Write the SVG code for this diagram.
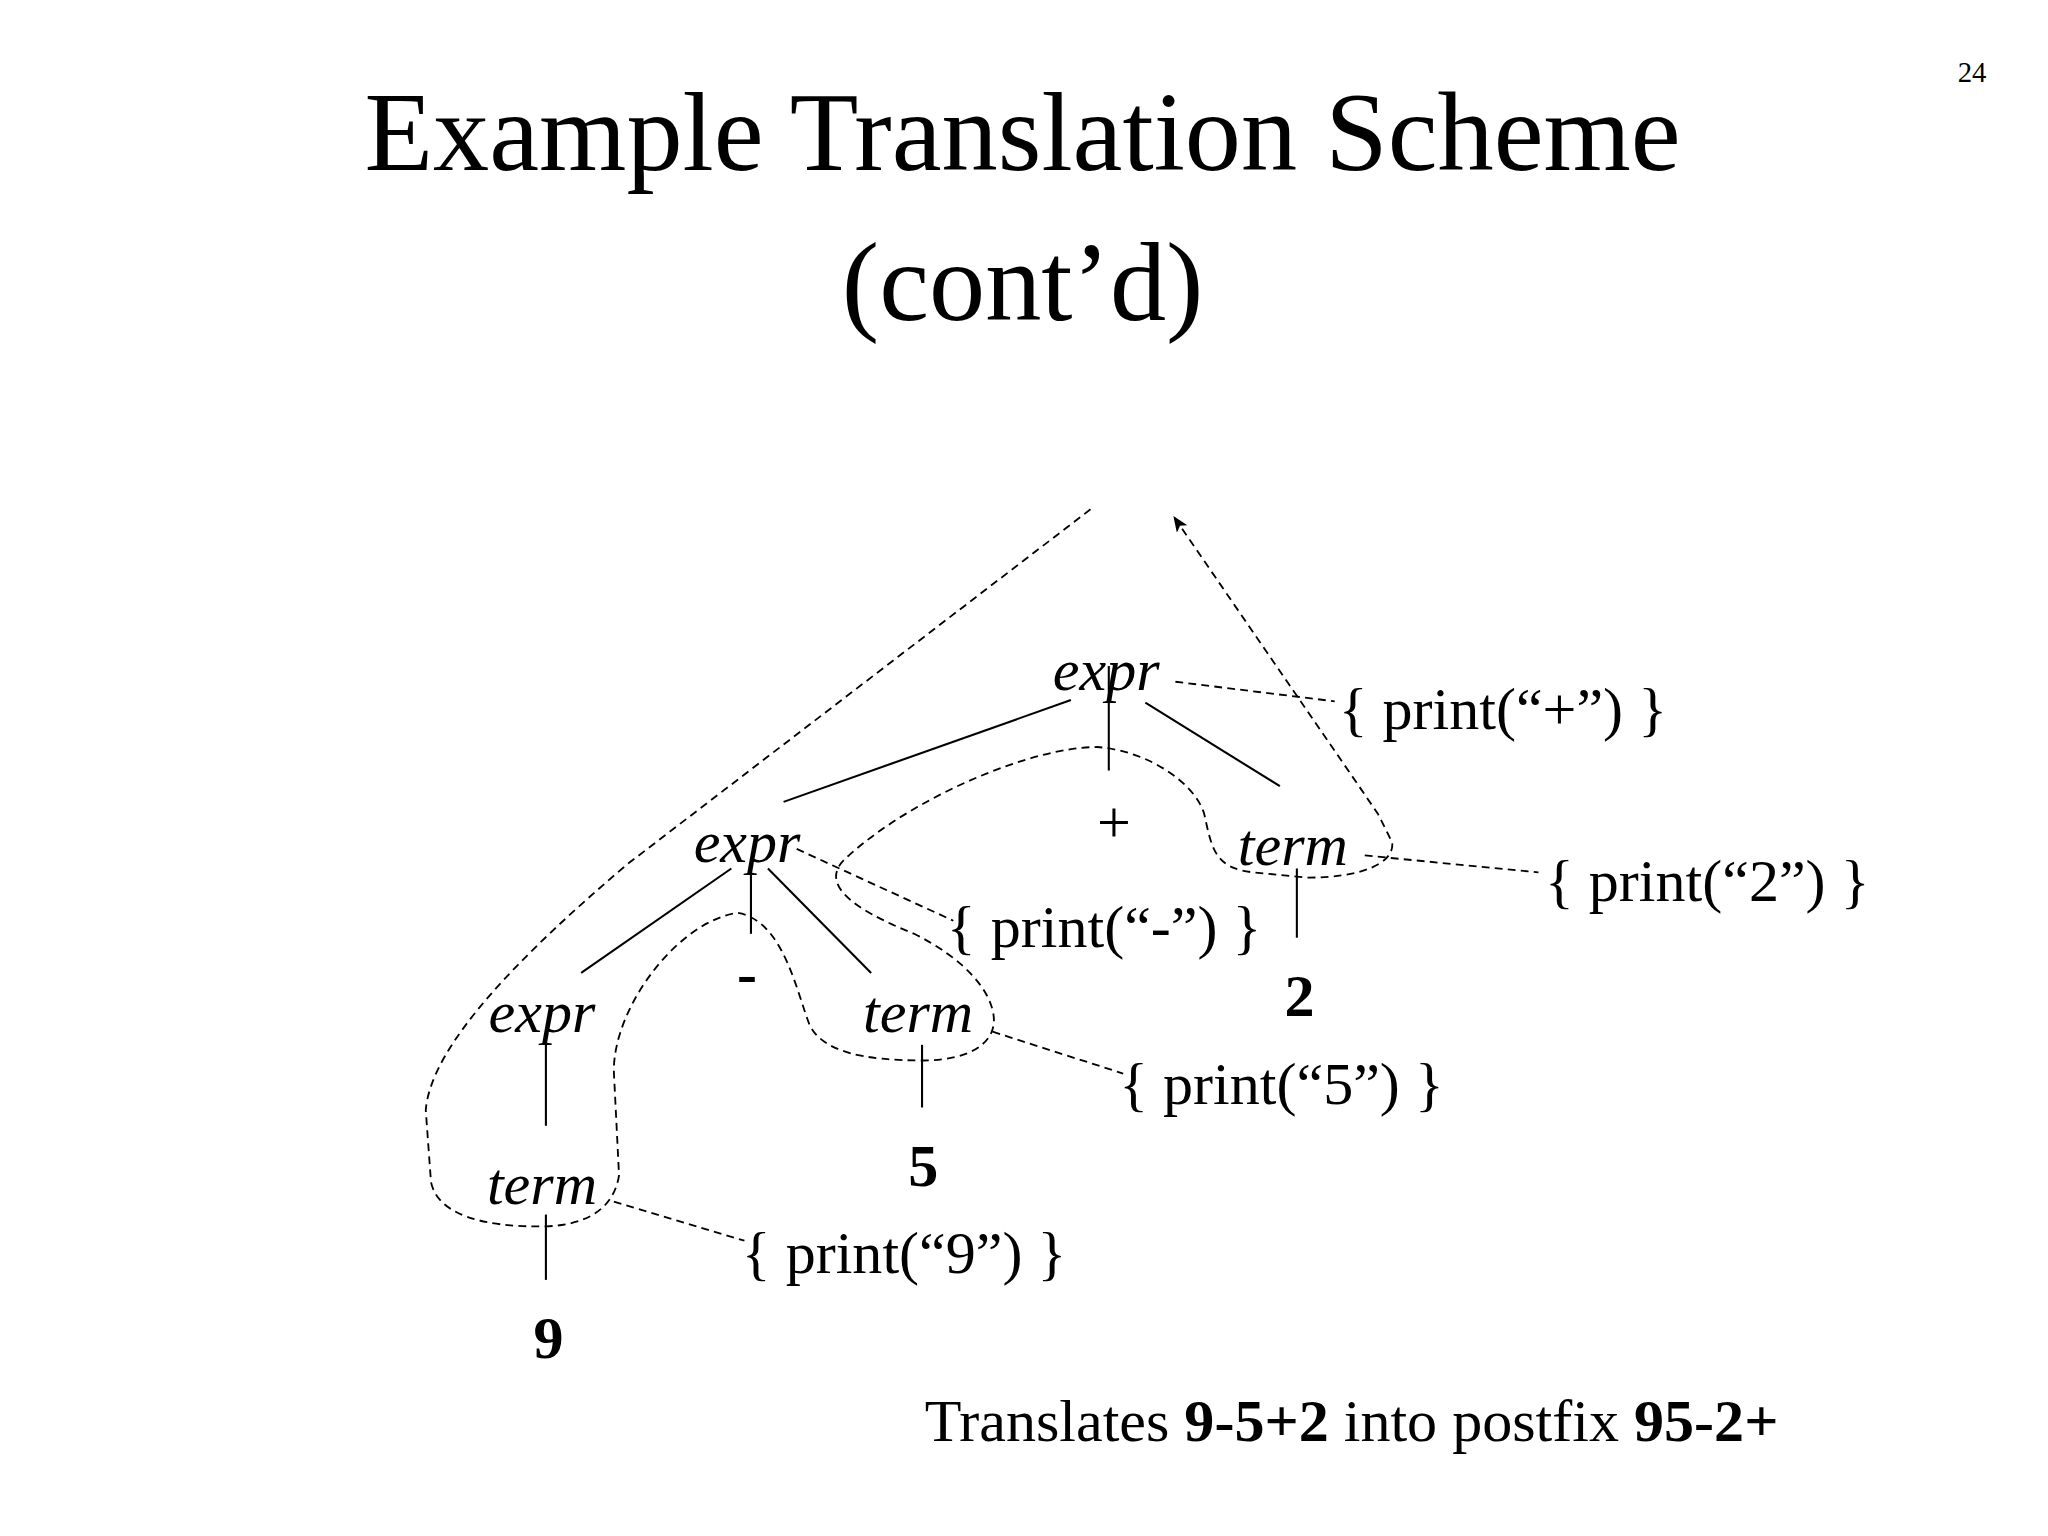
<svg xmlns="http://www.w3.org/2000/svg" width="2048" height="1536" viewBox="0 0 2048 1536">
<style>
text{font-family:"Liberation Serif","Times New Roman",serif;fill:#000}
.t{font-size:86px;text-anchor:middle}
.n{font-size:46px;font-style:italic;text-anchor:middle}
.b{font-size:46px;font-weight:bold;text-anchor:middle}
.p{font-size:46px}
.s{stroke:#000;stroke-width:1.6;fill:none}
.d{stroke:#000;stroke-width:1.4;fill:none;stroke-dasharray:6 4}
</style>
<defs><marker id="ah" markerWidth="12" markerHeight="10" refX="11" refY="5" orient="auto" markerUnits="userSpaceOnUse"><path d="M0,0 L12,5 L0,10 L3,5 Z" fill="#000"/></marker></defs>
<rect width="2048" height="1536" fill="#fff"/>
<g transform="scale(1.306)">
<text class="t" x="783" y="130">Example Translation Scheme</text>
<text class="t" x="783" y="245">(cont’d)</text>
<text x="1510" y="63" style="font-size:22px;text-anchor:middle">24</text>
<g id="n_expr_top"><text class="n" x="847" y="528">expr</text></g>
<g id="n_plus"><text class="p" x="853" y="645" style="text-anchor:middle">+</text></g>
<g id="n_term_r"><text class="n" x="990" y="662">term</text></g>
<g id="n_2"><text class="b" x="995" y="778">2</text></g>
<g id="n_expr_mid"><text class="n" x="572" y="660">expr</text></g>
<g id="n_minus"><text class="b" x="572" y="760">-</text></g>
<g id="n_term_mid"><text class="n" x="703" y="790">term</text></g>
<g id="n_5"><text class="b" x="707" y="908">5</text></g>
<g id="n_expr_l"><text class="n" x="415" y="790">expr</text></g>
<g id="n_term_l"><text class="n" x="415" y="922">term</text></g>
<g id="n_9"><text class="b" x="420" y="1040">9</text></g>
<g id="a_plus"><text class="p" x="1025" y="558">{ print(“+”) }</text></g>
<g id="a_2"><text class="p" x="1183" y="690">{ print(“2”) }</text></g>
<g id="a_minus"><text class="p" x="725" y="725">{ print(“-”) }</text></g>
<g id="a_5"><text class="p" x="857" y="845">{ print(“5”) }</text></g>
<g id="a_9"><text class="p" x="568" y="975">{ print(“9”) }</text></g>
<text class="p" x="708" y="1103">Translates <tspan font-weight="bold">9-5+2</tspan> into postfix <tspan font-weight="bold">95-2+</tspan></text>
<g id="connectors">
<line class="s" x1="820" y1="536" x2="600" y2="614"/>
<line class="s" x1="849" y1="510" x2="849" y2="590"/>
<line class="s" x1="877" y1="538" x2="980" y2="602"/>
<line class="s" x1="993" y1="665" x2="993" y2="718"/>
<line class="s" x1="560" y1="665" x2="445" y2="745"/>
<line class="s" x1="575" y1="665" x2="575" y2="715"/>
<line class="s" x1="588" y1="665" x2="667" y2="745"/>
<line class="s" x1="706" y1="800" x2="706" y2="848"/>
<line class="s" x1="418" y1="800" x2="418" y2="862"/>
<line class="s" x1="418" y1="930" x2="418" y2="980"/>
<line class="d" x1="900" y1="522" x2="1022" y2="537"/>
<line class="d" x1="1045" y1="655" x2="1178" y2="668"/>
<line class="d" x1="610" y1="650" x2="730" y2="705"/>
<line class="d" x1="760" y1="790" x2="860" y2="822"/>
<line class="d" x1="470" y1="920" x2="570" y2="950"/>
<path class="d" marker-end="url(#ah)" d="M835,390 L480,662 C400,730 330,800 326,850 L330,905 C335,930 370,940 418,939 C450,938 470,925 474,900 L470,820 C470,770 520,705 565,699 C600,705 610,760 620,785 C630,805 660,812 707,812 C740,812 762,800 761,780 C760,760 740,735 700,715 C650,695 625,675 650,655 C700,610 790,572 840,572 C880,575 915,600 922,623 C928,650 930,665 960,668 L1001,672 C1040,672 1068,662 1066,645 L1055,623 L899,396"/>
</g>
</g>
</svg>
